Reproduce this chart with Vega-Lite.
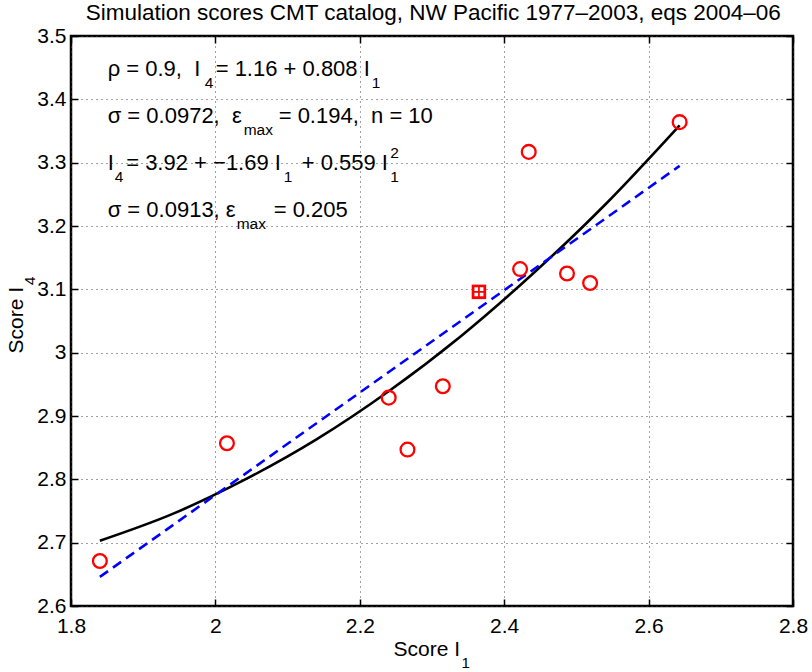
{
  "$schema": "https://vega.github.io/schema/vega-lite/v6.json",
  "width": 722,
  "height": 570,
  "autosize": {"type": "none"},
  "padding": {"left": 71, "top": 36, "right": 19, "bottom": 66},
  "background": "white",
  "config": {
    "font": "Liberation Sans",
    "view": {"stroke": "black", "strokeWidth": 2.5},
    "text": {"font": "Liberation Sans", "color": "black", "fontSize": 22, "align": "left", "baseline": "alphabetic"},
    "axis": {"labelFont": "Liberation Sans", "labelColor": "black", "labelFontSize": 21, "domain": false, "tickColor": "black", "tickWidth": 1.5, "tickSize": -7, "labelFlush": false, "labelOverlap": false, "labelBound": false, "gridColor": "#444", "gridDash": [1, 4], "gridWidth": 1, "title": null}
  },
  "resolve": {"scale": {"x": "shared", "y": "shared"}, "axis": {"x": "independent", "y": "independent"}},
  "datasets": {
    "pts": [
      {"I1": 1.840, "I4": 2.671},
      {"I1": 2.016, "I4": 2.857},
      {"I1": 2.240, "I4": 2.929},
      {"I1": 2.266, "I4": 2.847},
      {"I1": 2.315, "I4": 2.947},
      {"I1": 2.422, "I4": 3.132},
      {"I1": 2.434, "I4": 3.317},
      {"I1": 2.487, "I4": 3.125},
      {"I1": 2.519, "I4": 3.110},
      {"I1": 2.643, "I4": 3.364}
    ],
    "sq": [{"I1": 2.365, "I4": 3.096}],
    "lin": [{"I1": 1.840, "I4": 2.646}, {"I1": 2.643, "I4": 3.295}],
    "quad": [
      {"I1": 1.84, "I4": 2.703},
      {"I1": 1.94, "I4": 2.745},
      {"I1": 2.04, "I4": 2.799},
      {"I1": 2.14, "I4": 2.863},
      {"I1": 2.24, "I4": 2.939},
      {"I1": 2.34, "I4": 3.026},
      {"I1": 2.44, "I4": 3.125},
      {"I1": 2.54, "I4": 3.234},
      {"I1": 2.643, "I4": 3.359}
    ],
    "notes": [
      {"k": "tt", "I1": 2.3018, "I4": 3.5, "t": "Simulation scores CMT catalog, NW Pacific 1977–2003, eqs 2004–06"},
      {"k": "a1", "I1": 1.8508, "I4": 3.4369, "t": "ρ = 0.9,\u00a0 I"},
      {"k": "a2", "I1": 1.8508, "I4": 3.4369, "t": "4"},
      {"k": "a3", "I1": 1.8508, "I4": 3.4369, "t": "= 1.16 + 0.808 I"},
      {"k": "a4", "I1": 1.8508, "I4": 3.4369, "t": "1"},
      {"k": "b1", "I1": 1.8508, "I4": 3.3622, "t": "σ = 0.0972,\u00a0 ε"},
      {"k": "b2", "I1": 1.8508, "I4": 3.3622, "t": "max"},
      {"k": "b3", "I1": 1.8508, "I4": 3.3622, "t": "= 0.194,\u00a0 n = 10"},
      {"k": "c1", "I1": 1.8508, "I4": 3.2885, "t": "I"},
      {"k": "c2", "I1": 1.8508, "I4": 3.2885, "t": "4"},
      {"k": "c3", "I1": 1.8508, "I4": 3.2885, "t": "= 3.92 + −1.69 I"},
      {"k": "c4", "I1": 1.8508, "I4": 3.2885, "t": "1"},
      {"k": "c5", "I1": 1.8508, "I4": 3.2885, "t": "+ 0.559 I"},
      {"k": "c6", "I1": 1.8508, "I4": 3.2885, "t": "1"},
      {"k": "c7", "I1": 1.8508, "I4": 3.2885, "t": "2"},
      {"k": "d1", "I1": 1.8508, "I4": 3.2147, "t": "σ = 0.0913, ε"},
      {"k": "d2", "I1": 1.8508, "I4": 3.2147, "t": "max"},
      {"k": "d3", "I1": 1.8508, "I4": 3.2147, "t": "= 0.205"},
      {"k": "xt", "I1": 2.3388, "I4": 2.6, "t": "Score I"},
      {"k": "xs", "I1": 2.3388, "I4": 2.6, "t": "1"},
      {"k": "yt", "I1": 1.8, "I4": 3.1037, "t": "Score I"},
      {"k": "ys", "I1": 1.8, "I4": 3.1037, "t": "4"}
    ]
  },
  "encoding": {
    "x": {"field": "I1", "type": "quantitative", "scale": {"domain": [1.8, 2.8], "nice": false, "zero": false}, "axis": null},
    "y": {"field": "I4", "type": "quantitative", "scale": {"domain": [2.6, 3.5], "nice": false, "zero": false}, "axis": null}
  },
  "layer": [
    {"data": {"name": "quad"}, "mark": {"type": "line", "color": "black", "strokeWidth": 2.6, "interpolate": "monotone"},
     "encoding": {
       "x": {"field": "I1", "type": "quantitative", "scale": {"domain": [1.8, 2.8], "nice": false, "zero": false},
             "axis": {"orient": "bottom", "values": [1.8, 2, 2.2, 2.4, 2.6, 2.8], "format": "~g", "grid": true, "labelPadding": 16}},
       "y": {"field": "I4", "type": "quantitative", "scale": {"domain": [2.6, 3.5], "nice": false, "zero": false},
             "axis": {"orient": "left", "values": [2.6, 2.7, 2.8, 2.9, 3, 3.1, 3.2, 3.3, 3.4, 3.5], "format": "~g", "grid": true, "labelPadding": 12}}
     }},
    {"data": {"name": "pts"}, "mark": {"type": "point", "opacity": 0},
     "encoding": {
       "x": {"field": "I1", "type": "quantitative", "scale": {"domain": [1.8, 2.8], "nice": false, "zero": false},
             "axis": {"orient": "top", "values": [1.8, 2, 2.2, 2.4, 2.6, 2.8], "labels": false, "grid": false}},
       "y": {"field": "I4", "type": "quantitative", "scale": {"domain": [2.6, 3.5], "nice": false, "zero": false},
             "axis": {"orient": "right", "values": [2.6, 2.7, 2.8, 2.9, 3, 3.1, 3.2, 3.3, 3.4, 3.5], "labels": false, "grid": false}}
     }},
    {"data": {"name": "lin"}, "mark": {"type": "line", "color": "#0000ff", "strokeWidth": 2.6, "strokeDash": [10, 6]}},
    {"data": {"name": "pts"}, "mark": {"type": "point", "shape": "circle", "color": "#ff0000", "filled": false, "strokeWidth": 2.3, "size": 190, "opacity": 1}},
    {"data": {"name": "sq"}, "mark": {"type": "point", "shape": "square", "color": "#ff0000", "filled": true, "size": 210, "opacity": 1}},
    {"data": {"name": "sq"}, "mark": {"type": "point", "shape": "M-0.62,-0.62H-0.12V-0.12H-0.62Z M0.12,-0.62H0.62V-0.12H0.12Z M-0.62,0.12H-0.12V0.62H-0.62Z M0.12,0.12H0.62V0.62H0.12Z", "color": "white", "filled": true, "size": 210, "opacity": 1}},
    {"data": {"name": "notes"}, "transform": [{"filter": "datum.k==='tt'"}], "mark": {"type": "text", "fontSize": 22.5, "align": "center", "dy": -16.5}, "encoding": {"text": {"field": "t"}}},
    {"data": {"name": "notes"}, "transform": [{"filter": "datum.k==='a1'||datum.k==='b1'||datum.k==='c1'||datum.k==='d1'"}], "mark": {"type": "text"}, "encoding": {"text": {"field": "t"}}},
    {"data": {"name": "notes"}, "transform": [{"filter": "datum.k==='a2'"}], "mark": {"type": "text", "fontSize": 15.5, "dx": 97, "dy": 12}, "encoding": {"text": {"field": "t"}}},
    {"data": {"name": "notes"}, "transform": [{"filter": "datum.k==='a3'"}], "mark": {"type": "text", "dx": 108}, "encoding": {"text": {"field": "t"}}},
    {"data": {"name": "notes"}, "transform": [{"filter": "datum.k==='a4'"}], "mark": {"type": "text", "fontSize": 15.5, "dx": 264, "dy": 12}, "encoding": {"text": {"field": "t"}}},
    {"data": {"name": "notes"}, "transform": [{"filter": "datum.k==='b2'"}], "mark": {"type": "text", "fontSize": 15.5, "dx": 136, "dy": 12}, "encoding": {"text": {"field": "t"}}},
    {"data": {"name": "notes"}, "transform": [{"filter": "datum.k==='b3'"}], "mark": {"type": "text", "dx": 171}, "encoding": {"text": {"field": "t"}}},
    {"data": {"name": "notes"}, "transform": [{"filter": "datum.k==='c2'"}], "mark": {"type": "text", "fontSize": 15.5, "dx": 7, "dy": 12}, "encoding": {"text": {"field": "t"}}},
    {"data": {"name": "notes"}, "transform": [{"filter": "datum.k==='c3'"}], "mark": {"type": "text", "dx": 18.5}, "encoding": {"text": {"field": "t"}}},
    {"data": {"name": "notes"}, "transform": [{"filter": "datum.k==='c4'"}], "mark": {"type": "text", "fontSize": 15.5, "dx": 176, "dy": 12}, "encoding": {"text": {"field": "t"}}},
    {"data": {"name": "notes"}, "transform": [{"filter": "datum.k==='c5'"}], "mark": {"type": "text", "dx": 194}, "encoding": {"text": {"field": "t"}}},
    {"data": {"name": "notes"}, "transform": [{"filter": "datum.k==='c6'"}], "mark": {"type": "text", "fontSize": 15.5, "dx": 282.5, "dy": 12}, "encoding": {"text": {"field": "t"}}},
    {"data": {"name": "notes"}, "transform": [{"filter": "datum.k==='c7'"}], "mark": {"type": "text", "fontSize": 15.5, "dx": 282.5, "dy": -12}, "encoding": {"text": {"field": "t"}}},
    {"data": {"name": "notes"}, "transform": [{"filter": "datum.k==='d2'"}], "mark": {"type": "text", "fontSize": 15.5, "dx": 129, "dy": 12}, "encoding": {"text": {"field": "t"}}},
    {"data": {"name": "notes"}, "transform": [{"filter": "datum.k==='d3'"}], "mark": {"type": "text", "dx": 166}, "encoding": {"text": {"field": "t"}}},
    {"data": {"name": "notes"}, "transform": [{"filter": "datum.k==='xt'"}], "mark": {"type": "text", "fontSize": 21, "align": "right", "dy": 50}, "encoding": {"text": {"field": "t"}}},
    {"data": {"name": "notes"}, "transform": [{"filter": "datum.k==='xs'"}], "mark": {"type": "text", "fontSize": 15, "align": "left", "dx": 1.5, "dy": 62}, "encoding": {"text": {"field": "t"}}},
    {"data": {"name": "notes"}, "transform": [{"filter": "datum.k==='yt'"}], "mark": {"type": "text", "fontSize": 21, "align": "right", "angle": 270, "dy": -48}, "encoding": {"text": {"field": "t"}}},
    {"data": {"name": "notes"}, "transform": [{"filter": "datum.k==='ys'"}], "mark": {"type": "text", "fontSize": 15, "align": "left", "angle": 270, "dx": 2, "dy": -36}, "encoding": {"text": {"field": "t"}}}
  ]
}
